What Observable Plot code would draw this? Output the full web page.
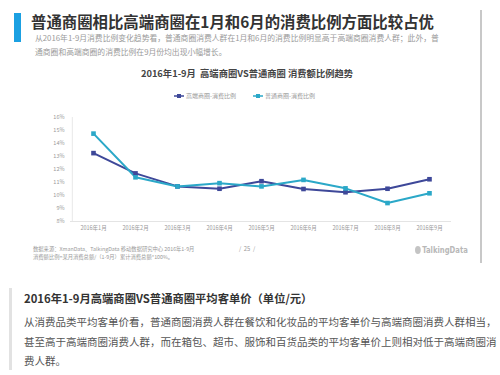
<!DOCTYPE html>
<html>
<head>
<meta charset="utf-8">
<script src="https://cdn.jsdelivr.net/npm/d3@7"></script>
<script src="https://cdn.jsdelivr.net/npm/@observablehq/plot@0.6"></script>
<style>
  html, body { margin: 0; padding: 0; background: #fff; }
  body { width: 500px; height: 375px; position: relative; overflow: hidden; font-family: "Noto Sans CJK SC", "Noto Sans", sans-serif; }
  .abs { position: absolute; white-space: nowrap; }
  #chart { position: absolute; left: 0; top: 100px; }
</style>
</head>
<body>
<script>
// ---- data ----
const months = ["2016年1月","2016年2月","2016年3月","2016年4月","2016年5月","2016年6月","2016年7月","2016年8月","2016年9月"];
const seriesNames = ["高端商圈-消费比例", "普通商圈-消费比例"];
const highEnd = [0.1326, 0.1170, 0.1070, 0.1052, 0.1110, 0.1050, 0.1025, 0.1052, 0.1125];
const regular = [0.1476, 0.1140, 0.1070, 0.1095, 0.1070, 0.1120, 0.1055, 0.0942, 0.1017];
const yTicks = [0.08, 0.09, 0.10, 0.11, 0.12, 0.13, 0.14, 0.15, 0.16];
const colors = ["#3e4899", "#2ba8c8"];

const pageTitle = "普通商圈相比高端商圈在1月和6月的消费比例方面比较占优";
const subLines = ["从2016年1-9月消费比例变化趋势看，普通商圈消费人群在1月和6月的消费比例明显高于高端商圈消费人群；此外，普",
                  "通商圈和高端商圈的消费比例在9月份均出现小幅增长。"];
const chartTitle = "2016年1-9月  高端商圈VS普通商圈 消费额比例趋势";
const sourceLines = ["数据来源：XmanData、TalkingData 移动数据研究中心 2016年1-9月",
                     "消费额比例=某月消费总额/（1-9月）累计消费总额*100%。"];
const pageNo = "/  25  /";
const brand = "TalkingData";
const sectionTitle = "2016年1-9月高端商圈VS普通商圈平均客单价（单位/元）";
const bodyLines = ["从消费品类平均客单价看，普通商圈消费人群在餐饮和化妆品的平均客单价与高端商圈消费人群相当，",
                   "甚至高于高端商圈消费人群，而在箱包、超市、服饰和百货品类的平均客单价上则相对低于高端商圈消",
                   "费人群。"];

// ---- static text / decorations ----
function add(html, style) {
  const d = document.createElement("div");
  d.className = "abs";
  d.style.cssText = style;
  d.innerHTML = html;
  document.body.appendChild(d);
  return d;
}
add("", "left:14px;top:13px;width:7px;height:29px;background:#1ba0e2;");
add("", "left:480px;top:10px;width:1.5px;height:253px;background:#c8c8c8;");
add(pageTitle, "left:31px;top:11px;font-size:15.4px;font-weight:bold;color:#333;line-height:20px;");
subLines.forEach((t, i) => add(t, `left:35px;top:${33 + i * 14}px;font-size:7.8px;color:#9a9a9a;line-height:10px;`));
add(chartTitle, "left:0;width:494px;text-align:center;top:67px;font-size:9.3px;font-weight:bold;color:#444;line-height:12px;white-space:pre;");

// legend
function sym(c) {
  return `<svg width="10" height="6" style="vertical-align:middle;margin-right:2px"><line x1="0" y1="3" x2="10" y2="3" stroke="${c}" stroke-width="1.5"/><rect x="3" y="1" width="4" height="4" fill="${c}"/></svg>`;
}
add(sym(colors[0]) + `<span>${seriesNames[0]}</span>`, "left:174px;top:91px;font-size:6px;color:#999;line-height:10px;");
add(sym(colors[1]) + `<span>${seriesNames[1]}</span>`, "left:253px;top:91px;font-size:6px;color:#999;line-height:10px;");

// footer
sourceLines.forEach((t, i) => add(t, `left:33px;top:${245 + i * 8}px;font-size:5.3px;color:#999;line-height:8px;`));
add(pageNo, "left:239px;top:245px;font-size:5.8px;color:#999;line-height:8px;white-space:pre;");
add(`<span style="display:inline-block;width:8px;height:8px;border-radius:50%;background:#c4c4c4;vertical-align:-1px;margin-right:2px"></span>${brand}`,
    "left:415px;top:244px;font-size:9.5px;color:#b8b8b8;line-height:12px;font-family:'DejaVu Sans',sans-serif;font-weight:bold;transform:scaleX(0.72);transform-origin:0 50%;");

// bottom section
add("", "left:9px;top:288px;width:3px;height:82px;background:#e2e2e2;");
add(sectionTitle, "left:24px;top:291px;font-size:11.3px;font-weight:bold;color:#333;line-height:15px;");
bodyLines.forEach((t, i) => add(t, `left:24px;top:${314 + i * 19.7}px;font-size:10.5px;color:#555;line-height:15px;`));

// ---- chart ----
const data = [];
months.forEach((m, i) => {
  data.push({month: m, value: highEnd[i], series: seriesNames[0]});
  data.push({month: m, value: regular[i], series: seriesNames[1]});
});

const chart = Plot.plot({
  width: 480,
  height: 140,
  marginLeft: 70,
  marginRight: 29,
  marginTop: 17,
  marginBottom: 19,
  style: {fontSize: "5.5px", color: "#9a9a9a", background: "transparent", fontFamily: "'Noto Sans CJK SC', sans-serif"},
  x: {type: "point", domain: months, padding: 0.5, label: null, tickSize: 0, tickPadding: 5},
  y: {domain: [0.08, 0.16], ticks: yTicks, tickFormat: d3.format(".0%"), label: null, tickSize: 0, tickPadding: 6},
  color: {domain: seriesNames, range: colors},
  marks: [
    Plot.ruleY([0.08], {stroke: "#e4e4e4", strokeWidth: 1}),
    Plot.ruleX([months[0]], {stroke: "#e8e8e8", strokeWidth: 1, dx: -21.2, y1: 0.08, y2: 0.16}),
    Plot.line(data, {x: "month", y: "value", z: "series", stroke: "series", strokeWidth: 2}),
    Plot.dot(data, {x: "month", y: "value", fill: "series", symbol: "square", r: 2.6})
  ]
});
chart.id = "chart";
document.body.appendChild(chart);
</script>
</body>
</html>
